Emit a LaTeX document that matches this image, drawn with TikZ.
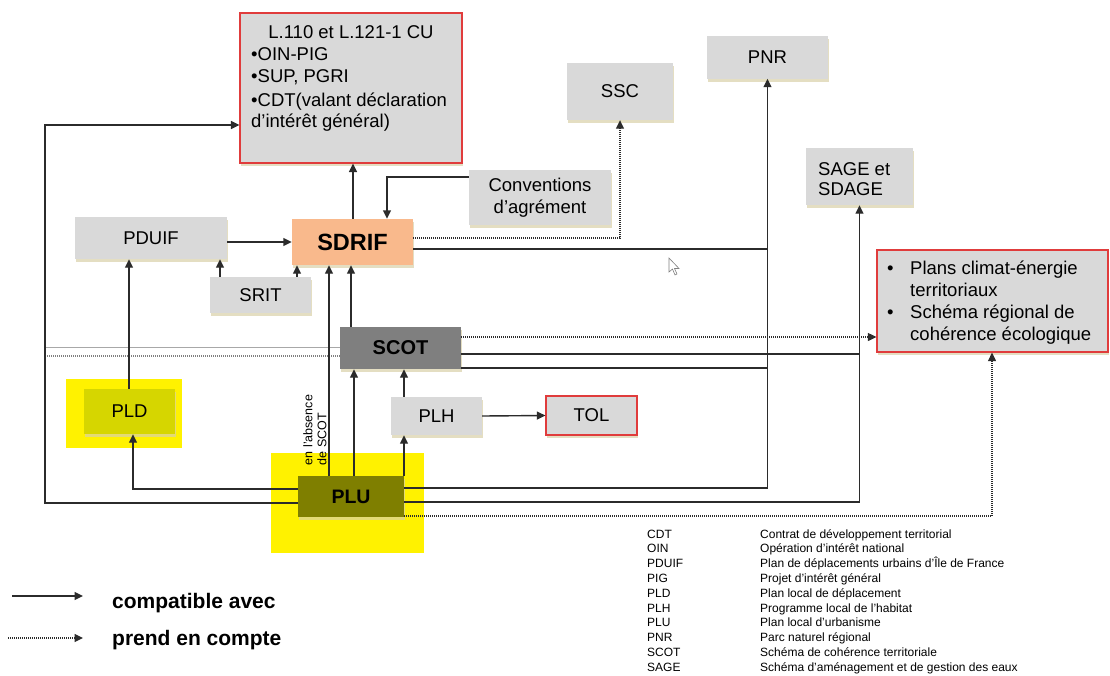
\documentclass[tikz,border=0pt]{standalone}
\usepackage{fontspec}
\setmainfont{Liberation Sans}
\usetikzlibrary{arrows.meta,shadows,calc}
\definecolor{boxgray}{HTML}{D9D9D9}
\definecolor{sdrifor}{HTML}{F9B98C}
\definecolor{scotgray}{HTML}{7F7F7F}
\definecolor{pldol}{HTML}{D6D600}
\definecolor{pluol}{HTML}{7F7F00}
\definecolor{redb}{HTML}{E03C3C}
\definecolor{linec}{HTML}{2B2B2B}
\definecolor{shad}{HTML}{D8D0A8}
\definecolor{sepgray}{HTML}{A8A8A8}
\begin{document}
\begin{tikzpicture}[x=1pt,y=-1pt,
  txt/.style={font=\fontsize{18.5}{22}\selectfont},
  box/.style={draw=none, fill=boxgray, inner sep=0pt, txt, drop shadow={shadow xshift=1pt, shadow yshift=-3pt, fill=shad, opacity=0.7}},
  redbox/.style={box, draw=redb, line width=1.2pt},
  conn/.style={draw=linec, line width=1.4pt},
  arr/.style={conn, -{Triangle[length=8.5pt,width=8pt]}},
  dots/.style={draw=linec, line width=1.1pt, dash pattern=on 1pt off 1pt},
  darr/.style={dots, -{Triangle[length=8.5pt,width=8pt]}},
  hl/.style={fill=yellow, draw=none},
  lt/.style={txt, anchor=base west, inner sep=0pt},
  abbr/.style={font=\fontsize{12}{14}\selectfont, anchor=base west, inner sep=0pt},
  legend/.style={font=\fontsize{21}{24}\selectfont\bfseries, anchor=base west, inner sep=0pt}
]
\useasboundingbox (0,0) rectangle (1110,675);

% highlights
\node[hl, minimum width=116, minimum height=69, inner sep=0] (pldhl) at (124,413.5) {};
\node[hl, minimum width=153, minimum height=100, inner sep=0] (pluhl) at (347.5,503) {};

% boxes
\node[redbox, minimum width=222, minimum height=150] (l110) at (351,88) {};
\node[txt, anchor=base, inner sep=0] (l110a) at (351,38) {L.110 et L.121-1 CU};
\node[lt] (l110b) at (251,60) {•OIN-PIG};
\node[lt] (l110c) at (251,82) {•SUP, PGRI};
\node[lt] (l110d) at (251,106) {•CDT(valant déclaration};
\node[lt] (l110e) at (251,127) {d’intérêt général)};

\node[box, minimum width=152, minimum height=42] (pduif) at (151,238) {PDUIF};
\node[box, fill=sdrifor, minimum width=121, minimum height=46, font=\fontsize{23.5}{26}\selectfont\bfseries] (sdrif) at (352.5,242) {SDRIF};
\node[box, minimum width=101, minimum height=36] (srit) at (260.5,295) {SRIT};
\node[box, minimum width=142, minimum height=55, align=center] (conv) at (540,197.5) {Conventions\\d’agrément};
\node[box, minimum width=106, minimum height=57] (ssc) at (620,91.5) {SSC};
\node[box, minimum width=121, minimum height=43, text depth=-2pt] (pnr) at (767.5,57) {PNR};
\node[box, minimum width=107, minimum height=57] (sage) at (859.5,176.5) {};
\node[lt] (sagea) at (818,175) {SAGE et};
\node[lt] (sageb) at (818,195) {SDAGE};
\node[redbox, minimum width=231, minimum height=102] (plans) at (992.5,301) {};
\node[lt] (pb1) at (887,274) {•};
\node[lt] (pl1) at (910,274) {Plans climat-énergie};
\node[lt] (pl2) at (910,296) {territoriaux};
\node[lt] (pb2) at (887,318) {•};
\node[lt] (pl3) at (910,318) {Schéma régional de};
\node[lt] (pl4) at (910,340) {cohérence écologique};

\node[box, fill=scotgray, minimum width=121, minimum height=42, font=\fontsize{20}{24}\selectfont\bfseries] (scot) at (400.5,348) {SCOT};
\node[box, fill=pldol, minimum width=91, minimum height=45] (pld) at (129.5,411.5) {PLD};
\node[box, fill=pluol, minimum width=106, minimum height=41, font=\fontsize{19.5}{22}\selectfont\bfseries] (plu) at (351,496.5) {PLU};
\node[box, minimum width=91, minimum height=38] (plh) at (436.5,416) {PLH};
\node[redbox, minimum width=91, minimum height=39] (tol) at (591.5,415.5) {TOL};

\node[rotate=90, align=left, font=\fontsize{12.5}{14}\selectfont, inner sep=0] (absence) at (315,430) {en l’absence\\de SCOT};

% corner coordinates
\coordinate (c1) at (45,503);
\coordinate (c2) at (45,125);
\coordinate (k1) at (387,177);
\coordinate (vpnr) at (768,249);
\coordinate (vpnr2) at (768,368);
\coordinate (vsage) at (860,354);
\coordinate (s1) at (45,347);
\coordinate (s2) at (45,356);

% separators
\draw[draw=sepgray, line width=1pt] (s1) -- (scot.west |- s1);
\draw[dots, draw=gray] (s2) -- (scot.west |- s2);

% connectors
\draw[arr] (plu.west |- c1) -- (c1) -- (c2) -- (l110.west |- c2);
\draw[arr] (plu.west |- 0,489) -| (133,0 |- pld.south);
\draw[arr] (pld.north -| 129,0) -- (pduif.south -| 129,0);
\draw[arr] (pduif.east |- 0,242) -- (sdrif.west |- 0,242);
\draw[arr] (srit.north -| 220,0) -- (pduif.south -| 220,0);
\draw[arr] (srit.north -| 297,0) -- (sdrif.south -| 297,0);
\draw[arr] (plu.north -| 329,0) -- (sdrif.south -| 329,0);
\draw[arr] (scot.north -| 351,0) -- (sdrif.south -| 351,0);
\draw[arr] (sdrif.north -| 353,0) -- (l110.south -| 353,0);
\draw[arr] (conv.west |- k1) -- (k1) -- (k1 |- sdrif.north);
\draw[darr] (sdrif.east |- 0,238) -| (ssc.south);
\draw[conn] (sdrif.east |- vpnr) -- (vpnr);
\draw[darr] (scot.east |- 0,337) -- (plans.west |- 0,337);
\draw[conn] (scot.east |- vsage) -- (vsage);
\draw[conn] (scot.east |- vpnr2) -- (vpnr2);
\draw[arr] (plu.east |- 0,488) -| (pnr.south);
\draw[arr] (plu.east |- 0,502) -| (sage.south);
\draw[darr] (plu.east |- 0,516) -| (992,0 |- plans.south);
\draw[arr] (plu.north -| 354,0) -- (scot.south -| 354,0);
\draw[arr] (plu.north -| 404,0) -- (plh.south -| 404,0);
\draw[arr] (plh.north -| 404,0) -- (scot.south -| 404,0);
\draw[arr] (plh.east) -- (tol.west);

% cursor
\draw[fill=white, draw=gray, line width=0.6pt] (669,258) -- (669,272) -- (672.5,269) -- (675,275) -- (677,274) -- (674.5,268.5) -- (679,268.5) -- cycle;

% legend
\coordinate (la1) at (12,596);
\coordinate (la2) at (83,596);
\coordinate (lb1) at (8,638);
\coordinate (lb2) at (83,638);
\draw[arr] (la1) -- (la2);
\draw[darr] (lb1) -- (lb2);
\node[legend] (lega) at (112,608) {compatible avec};
\node[legend] (legb) at (112,645) {prend en compte};

% abbreviations
\foreach \a/\b [count=\i from 0] in {CDT/Contrat de développement territorial, OIN/Opération d’intérêt national, PDUIF/Plan de déplacements urbains d’Île de France, PIG/Projet d’intérêt général, PLD/Plan local de déplacement, PLH/Programme local de l’habitat, PLU/Plan local d’urbanisme, PNR/Parc naturel régional, SCOT/Schéma de cohérence territoriale, SAGE/Schéma d’aménagement et de gestion des eaux}{
  \node[abbr] (ab\i) at (647,538+14.8*\i) {\a};
  \node[abbr] (ad\i) at (760,538+14.8*\i) {\b};
}
\end{tikzpicture}
\end{document}
